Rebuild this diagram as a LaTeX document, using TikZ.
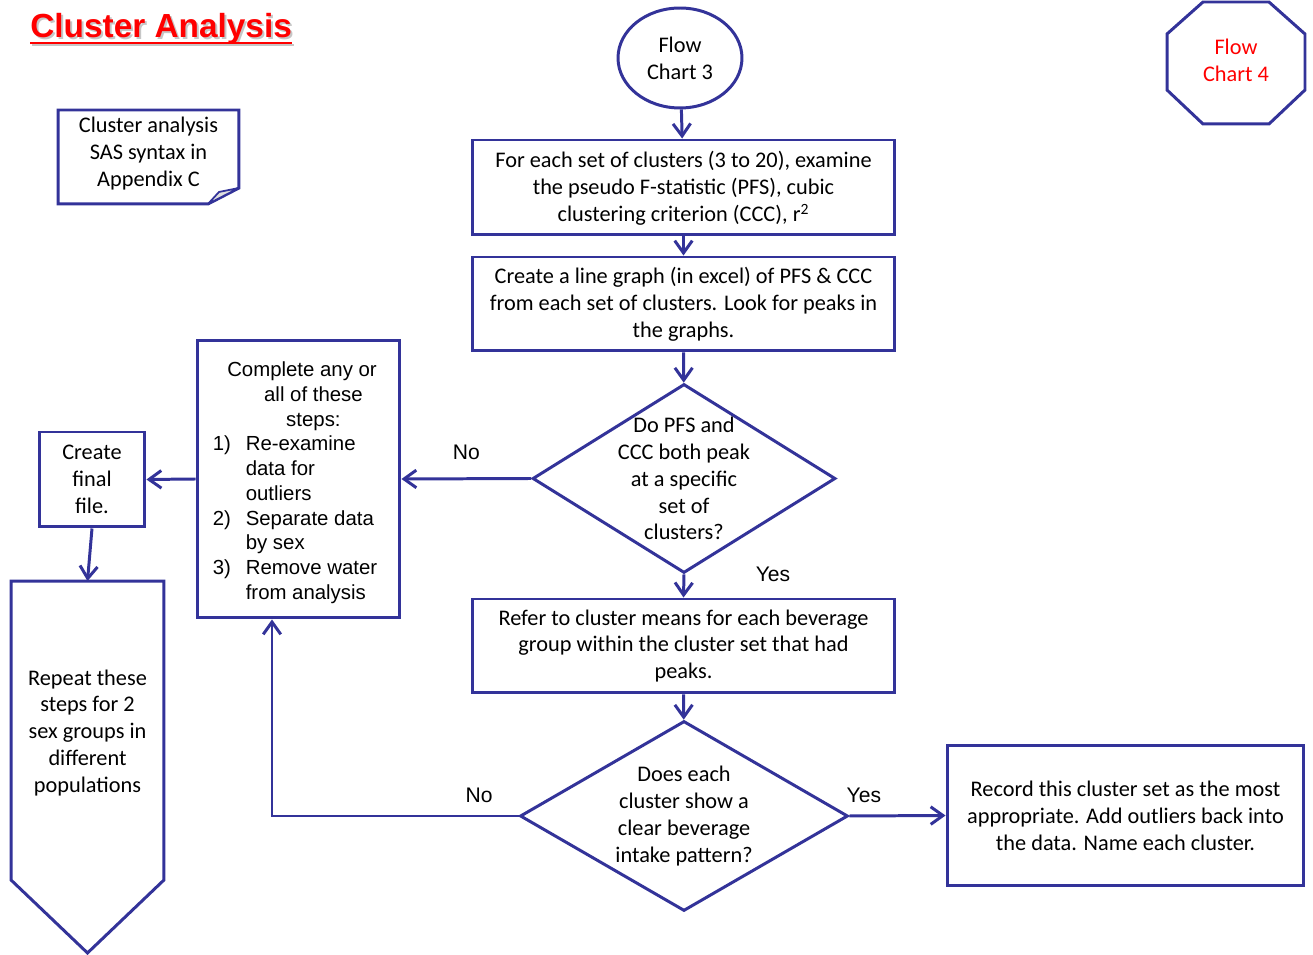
\documentclass[tikz,border=0pt]{standalone}
\usepackage{fontspec}
\setmainfont{Carlito}
\newfontfamily\arialfont{Liberation Sans}
\usetikzlibrary{arrows.meta,shapes.geometric,calc}
\definecolor{chartblue}{RGB}{51,51,153}
\newcommand\chartfont{\fontsize{12.7}{15.3}\selectfont}
\newcommand\stepfont{\arialfont\fontsize{11.6}{14.1}\selectfont}
\newcommand\answerfont{\arialfont\fontsize{12}{14}\selectfont}
\newcommand\titlefont{\arialfont\bfseries\fontsize{19}{22}\selectfont}
% lower (or raise) a stack of centred lines without changing the box size
\newcommand\shiftlines[2]{\raisebox{#1}[\height][\depth]{\begin{tabular}{@{}c@{}}#2\end{tabular}}}

\begin{document}
\begin{tikzpicture}[x=0.02cm, y=-0.02cm,
  box/.style={rectangle, draw=chartblue, line width=1.7pt, fill=white, align=center, inner sep=0pt, font=\chartfont},
  decision/.style={diamond, draw=chartblue, line width=1.7pt, fill=white, inner sep=0pt},
  outline/.style={draw=chartblue, line width=1.7pt, line join=miter},
  flow/.style={draw=chartblue, line width=1.7pt, -{Straight Barb[length=7pt,width=10pt]}},
  answer/.style={font=\answerfont}]
  \useasboundingbox (0,0) rectangle (1313,955);

  % title
  \node[anchor=base west, inner sep=0pt, text=gray!45, font=\titlefont] (titleshadow) at (32,40) {Cluster Analysis};
  \draw[gray!45, line width=1.4pt] ($(titleshadow.base west)+(0,5)$) -- ($(titleshadow.base east)+(0,5)$);
  \node[anchor=base west, inner sep=0pt, text=red, font=\titlefont] (title) at (30,38) {Cluster Analysis};
  \draw[red, line width=1.4pt] ($(title.base west)+(0,5)$) -- ($(title.base east)+(0,5)$);

  % side shapes
  \node[inner sep=0pt, outer sep=0pt, minimum width=3.62cm, minimum height=1.88cm, font=\chartfont] (doc) at (148.5,157)
    {\shiftlines{1.7pt}{Cluster analysis\\SAS syntax in\\Appendix C}};
  \draw[outline] (doc.north west) -- (doc.north east) -- ($(doc.south east)+(0,-16)$) -- ($(doc.south east)+(-31,0)$) -- (doc.south west) -- cycle;
  \draw[outline, fill=gray!25, line width=1pt, line join=round] ($(doc.south east)+(-31,0)$) -- ($(doc.south east)+(-20,-12)$) -- ($(doc.south east)+(0,-16)$) -- cycle;

  \node[inner sep=0pt, outer sep=0pt, minimum width=2.76cm, minimum height=2.44cm, text=red, font=\chartfont] (chart4) at (1236,63)
    {\shiftlines{0pt}{Flow\\Chart 4}};
  \draw[outline] ($(chart4.north west)+(36,0)$) -- ($(chart4.north east)+(-36,0)$) -- ($(chart4.north east)+(0,32)$) -- ($(chart4.south east)+(0,-34)$)
    -- ($(chart4.south east)+(-36,0)$) -- ($(chart4.south west)+(36,0)$) -- ($(chart4.south west)+(0,-34)$) -- ($(chart4.north west)+(0,32)$) -- cycle;

  % main column
  \node[box, ellipse, minimum width=2.48cm, minimum height=2cm] (chart3) at (680,58) {Flow\\Chart 3};
  \node[box, minimum width=8.44cm, minimum height=1.9cm] (examine) at (683.5,187.5)
    {\shiftlines{-1.1pt}{For each set of clusters (3 to 20), examine\\the pseudo F-statistic (PFS), cubic\\clustering criterion (CCC), r\textsuperscript{2}}};
  \node[box, minimum width=8.44cm, minimum height=1.88cm] (graph) at (683.5,304) {Create a line graph (in excel) of PFS \& CCC\\from each set of clusters. Look for peaks in\\the graphs.};
  \node[decision, minimum width=6.06cm, minimum height=3.78cm, label={[align=center, font=\chartfont]center:{Do PFS and\\CCC both peak\\at a specific\\set of\\clusters?}}] (peak) at (684,478.5) {};
  \node[box, minimum width=8.46cm, minimum height=1.88cm] (means) at (683.5,646) {Refer to cluster means for each beverage\\group within the cluster set that had\\peaks.};
  \node[decision, minimum width=6.56cm, minimum height=3.8cm, label={[align=center, font=\chartfont]center:{Does each\\cluster show a\\clear beverage\\intake pattern?}}] (pattern) at (684,816) {};
  \node[box, minimum width=7.14cm, minimum height=2.82cm] (record) at (1125.5,815.5) {Record this cluster set as the most\\appropriate. Add outliers back into\\the data. Name each cluster.};

  % left column
  \node[box, minimum width=4.06cm, minimum height=5.56cm, font=\stepfont] (steps) at (298.5,479) {%
    \raisebox{-2.3pt}[\height][\depth]{\begin{tabular}{@{}l@{\hspace{8.5pt}}l@{\hspace{4pt}}}
      \multicolumn{2}{@{}c@{}}{\hspace{4pt}Complete any or}\\
      \multicolumn{2}{@{}c@{}}{\hspace{17pt}all of these}\\
      \multicolumn{2}{@{}c@{}}{\hspace{17pt}steps:}\\
      1) & Re-examine\\
         & data for\\
         & outliers\\
      2) & Separate data\\
         & by sex\\
      3) & Remove water\\
         & from analysis
    \end{tabular}}};
  \node[box, minimum width=2.12cm, minimum height=1.9cm] (final) at (92,479.5) {Create\\final\\file.};
  \node[inner sep=0pt, outer sep=0pt, minimum width=3.06cm, minimum height=5.98cm, font=\chartfont] (repeat) at (87.5,730.5)
    {\shiftlines{-1.7pt}{Repeat these\\steps for 2\\sex groups in\\different\\populations}};
  \draw[outline] (repeat.north west) -- (repeat.north east) -- (repeat.south east) -- ($(repeat.south)+(0,73)$) -- (repeat.south west) -- cycle;
  \coordinate (loop) at (272,816);

  % connectors
  \draw[flow] (chart3) -- (examine);
  \draw[flow] (examine) -- (graph);
  \draw[flow] (graph) -- (peak);
  \draw[flow] (peak.south) -- node[answer, at start, xshift=1.78cm] {Yes} (means.north);
  \draw[flow] (peak.west) -- node[answer, midway, yshift=0.52cm] {No} (steps.east);
  \draw[flow] (means) -- (pattern);
  \draw[flow] (pattern.east) -- node[answer, pos=0.15, yshift=0.42cm] {Yes} (record.west);
  \draw[flow] (pattern.west) -- node[answer, pos=0.16, yshift=0.42cm] {No} (loop) -- (loop |- steps.south);
  \draw[flow] (steps.west) -- (final.east);
  \draw[flow] (final.south) -- (repeat.north);
\end{tikzpicture}
\end{document}
